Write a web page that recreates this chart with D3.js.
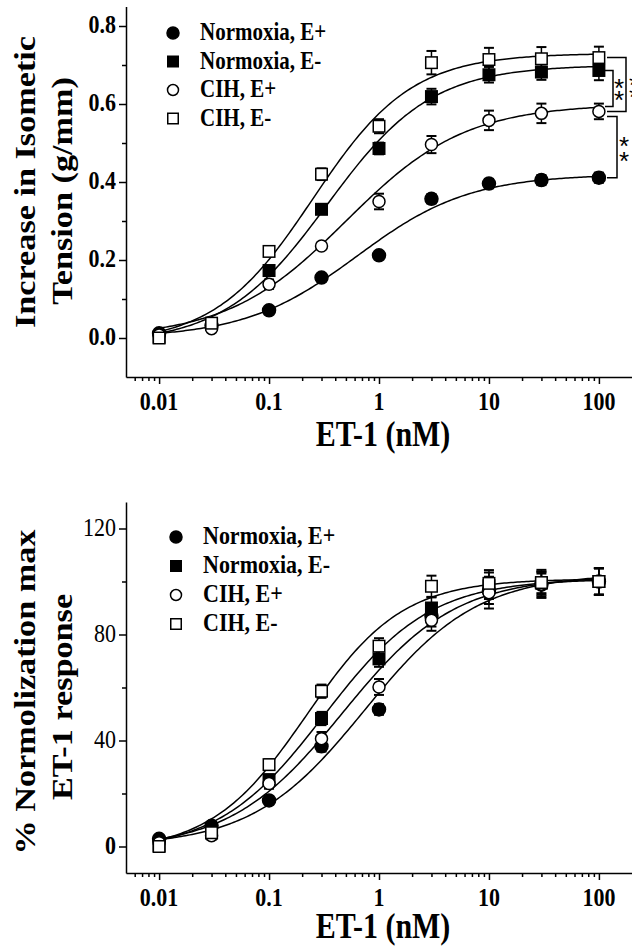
<!DOCTYPE html>
<html>
<head>
<meta charset="utf-8">
<script src="https://cdn.jsdelivr.net/npm/d3@7"></script>
<style>
  body { margin: 0; background: #fff; }
  svg { display: block; }
  text { font-family: "Liberation Serif", "Times New Roman", serif; font-weight: bold; fill: #000; }
</style>
</head>
<body>
<svg id="chart" width="632" height="948"></svg>
<script>
// concentrations of ET-1 (nM)
const conc = [0.01, 0.03, 0.1, 0.3, 1, 3, 10, 30, 100];
const seriesNames = ["Normoxia, E+", "Normoxia, E-", "CIH, E+", "CIH, E-"];
const seriesShapes = ["circle", "square", "circle", "square"];
const seriesFilled = [true, true, false, false];

// top panel: increase in isometric tension (g/mm)
const tensionNormoxiaEp = [0.012, 0.032, 0.071, 0.155, 0.212, 0.357, 0.396, 0.405, 0.411];
const tensionNormoxiaEm = [0.002, 0.035, 0.173, 0.330, 0.486, 0.619, 0.675, 0.682, 0.686];
const tensionCihEp      = [0.008, 0.024, 0.138, 0.236, 0.350, 0.496, 0.558, 0.576, 0.581];
const tensionCihEm      = [0.000, 0.038, 0.222, 0.420, 0.543, 0.706, 0.714, 0.716, 0.719];
const tensionErrNormoxiaEp = [0.005, 0.005, 0.006, 0.008, 0.008, 0.012, 0.012, 0.013, 0.013];
const tensionErrNormoxiaEm = [0.004, 0.005, 0.010, 0.010, 0.015, 0.020, 0.020, 0.020, 0.025];
const tensionErrCihEp      = [0.005, 0.008, 0.012, 0.008, 0.020, 0.022, 0.025, 0.025, 0.020];
const tensionErrCihEm      = [0.004, 0.006, 0.008, 0.015, 0.018, 0.030, 0.030, 0.030, 0.028];
// fitted sigmoid per series: [bottom, top, logEC50, hill]
const tensionFits = [
  [0.000, 0.420, -0.20, 0.85],
  [-0.015, 0.700, -0.47, 0.92],
  [0.000, 0.600, -0.30, 0.80],
  [-0.015, 0.730, -0.60, 0.97]
];

// bottom panel: % normalization of max ET-1 response
const pctNormoxiaEp = [2.9, 7.8, 17.4, 37.8, 51.7, 87.0, 96.5, 98.8, 100.0];
const pctNormoxiaEm = [0.3, 5.1, 25.2, 48.3, 70.8, 90.0, 98.4, 99.4, 100.0];
const pctCihEp      = [1.4, 4.1, 23.8, 40.7, 60.2, 85.4, 95.8, 99.0, 100.0];
const pctCihEm      = [0.0, 5.2, 30.9, 58.6, 75.6, 98.2, 99.3, 99.6, 100.0];
const pctErrNormoxiaEp = [1.0, 1.0, 1.5, 2.0, 2.0, 4.0, 5.0, 5.0, 5.0];
const pctErrNormoxiaEm = [1.0, 1.0, 2.0, 2.5, 3.0, 4.0, 5.0, 5.0, 5.0];
const pctErrCihEp      = [1.0, 1.5, 2.0, 2.5, 3.0, 4.0, 6.0, 4.0, 5.0];
const pctErrCihEm      = [1.0, 1.0, 2.0, 2.5, 3.0, 4.0, 5.0, 4.0, 5.0];
const pctFits = [
  [0.0, 103.0, -0.13, 0.85],
  [-2.0, 101.0, -0.50, 0.90],
  [-1.0, 102.0, -0.33, 0.85],
  [-2.0, 101.0, -0.66, 1.00]
];

// axes
const xTicks = [0.01, 0.1, 1, 10, 100];
const xTickLabels = ["0.01", "0.1", "1", "10", "100"];
const tensionTicks = [0, 0.2, 0.4, 0.6, 0.8];
const tensionTickLabels = ["0.0", "0.2", "0.4", "0.6", "0.8"];
const tensionMinorTicks = [0.1, 0.3, 0.5, 0.7];
const pctTicks = [0, 40, 80, 120];
const pctTickLabels = ["0", "40", "80", "120"];
const pctMinorTicks = [20, 60, 100];

const STRETCH = 1.18; // the figure is a bit taller than wide

const svg = d3.select("#chart");

function addText(g, x, y, str, size, anchor, extra) {
  const t = g.append("text")
    .attr("transform", `translate(${x},${y}) scale(1,${STRETCH})`)
    .attr("text-anchor", anchor || "start")
    .style("font-size", size + "px")
    .text(str);
  if (extra) extra(t);
  return t;
}

function addVText(g, x, y, str, size) {
  return g.append("text")
    .attr("transform", `translate(${x},${y}) rotate(-90) scale(${STRETCH},1)`)
    .attr("text-anchor", "middle")
    .style("font-size", size + "px")
    .text(str);
}

function hill(p, c) {
  return p[0] + (p[1] - p[0]) / (1 + Math.pow(10, (p[2] - Math.log10(c)) * p[3]));
}

function drawMarker(g, shape, filled, cx, cy, size) {
  if (shape === "circle") {
    const r = filled ? size / 2 + 0.5 : size / 2;
    g.append("circle").attr("cx", cx).attr("cy", cy).attr("r", r)
      .attr("fill", filled ? "#000" : "#fff")
      .attr("stroke", "#000").attr("stroke-width", 1.5);
  } else {
    const s = size - 0.5;
    g.append("rect").attr("x", cx - s / 2).attr("y", cy - s / 2)
      .attr("width", s).attr("height", s)
      .attr("fill", filled ? "#000" : "#fff")
      .attr("stroke", "#000").attr("stroke-width", 1.5);
  }
}

function drawPanel(p) {
  const g = svg.append("g");
  const x = d3.scaleLog().domain([0.005, 200]).range([126, 632]);
  const y = d3.scaleLinear().domain(p.yDomain).range([p.yBottom, p.yTop]);

  // minor x ticks at 2..9 of each decade
  const xMinor = [];
  for (let d = -3; d <= 2; d++) {
    for (let k = 2; k <= 9; k++) {
      const v = k * Math.pow(10, d);
      if (v > 0.005 && v < 200) xMinor.push(v);
    }
  }

  g.append("g").attr("transform", `translate(0,${p.yBottom})`)
    .call(d3.axisBottom(x).tickValues(xTicks).tickFormat("").tickSize(7).tickSizeOuter(0));
  g.append("g").attr("transform", `translate(0,${p.yBottom})`)
    .call(d3.axisBottom(x).tickValues(xMinor).tickFormat("").tickSize(4).tickSizeOuter(0))
    .select(".domain").remove();

  g.append("g").attr("transform", "translate(126,0)")
    .call(d3.axisLeft(y).tickValues(p.yTicks).tickFormat("").tickSize(7).tickSizeOuter(0));
  g.append("g").attr("transform", "translate(126,0)")
    .call(d3.axisLeft(y).tickValues(p.yMinor).tickFormat("").tickSize(4).tickSizeOuter(0))
    .select(".domain").remove();

  g.selectAll(".domain, .tick line").attr("stroke", "#000").attr("stroke-width", 1.5);

  xTicks.forEach((v, i) => addText(g, x(v), p.yBottom + 33, xTickLabels[i], 22, "middle"));
  p.yTicks.forEach((v, i) => addText(g, 116, y(v) + 7, p.yTickLabels[i], 22, "end",
    t => t.style("font-weight", p.yLabelWeight(v))));

  addText(g, 383, p.yBottom + p.xTitleDy, "ET-1 (nM)", 30, "middle");
  addVText(g, 35, p.titleCenter[0], p.yTitle[0], 29);
  addVText(g, 72, p.titleCenter[1], p.yTitle[1], 29);

  // fitted curves
  const xs = d3.range(-2, 2.0001, 0.02).map(l => Math.pow(10, l));
  const line = d3.line().x(c => x(c[0])).y(c => y(c[1]));
  p.fits.forEach(f => {
    g.append("path")
      .attr("d", line(xs.map(c => [c, hill(f, c)])))
      .attr("fill", "none").attr("stroke", "#000").attr("stroke-width", 1.5);
  });

  // error bars
  p.values.forEach((vals, s) => {
    vals.forEach((v, i) => {
      const e = p.errors[s][i];
      const cx = x(conc[i]);
      const y0 = y(v - e), y1 = y(v + e);
      g.append("line").attr("x1", cx).attr("x2", cx).attr("y1", y0).attr("y2", y1)
        .attr("stroke", "#000").attr("stroke-width", 1.5);
      [y0, y1].forEach(yy => g.append("line")
        .attr("x1", cx - 5).attr("x2", cx + 5).attr("y1", yy).attr("y2", yy)
        .attr("stroke", "#000").attr("stroke-width", 2));
    });
  });

  // markers
  p.values.forEach((vals, s) => {
    vals.forEach((v, i) => drawMarker(g, seriesShapes[s], seriesFilled[s], x(conc[i]), y(v), 12));
  });

  // legend
  seriesNames.forEach((name, s) => {
    const ly = p.legend.y + s * p.legend.dy;
    drawMarker(g, seriesShapes[s], seriesFilled[s], p.legend.x, ly, 11);
    addText(g, p.legend.x + 27, ly + 7, name, p.legend.size, "start");
  });

  return { g, x, y };
}

// top panel
const topPanel = drawPanel({
  yDomain: [-0.1, 0.85], yBottom: 377, yTop: 6.5, xTitleDy: 69,
  yTicks: tensionTicks, yTickLabels: tensionTickLabels, yMinor: tensionMinorTicks,
  yLabelWeight: () => "bold",
  yTitle: ["Increase in Isometic", "Tension (g/mm)"], titleCenter: [182, 191],
  values: [tensionNormoxiaEp, tensionNormoxiaEm, tensionCihEp, tensionCihEm],
  errors: [tensionErrNormoxiaEp, tensionErrNormoxiaEm, tensionErrCihEp, tensionErrCihEm],
  fits: tensionFits,
  legend: { x: 173, y: 33, dy: 28.5, size: 21 }
});

// significance brackets at 100 nM
const last = conc.length - 1;
const yEnd = [tensionNormoxiaEp, tensionNormoxiaEm, tensionCihEp, tensionCihEm].map(a => topPanel.y(a[last]));
const brackets = [
  { y0: yEnd[3], y1: yEnd[2], xv: 626, x0: 607, sx: 634, s0: -6, s1: 6 },
  { y0: yEnd[1], y1: yEnd[2] - 5, xv: 613, x0: 605, sx: 619, s0: -6, s1: 6 },
  { y0: yEnd[2] + 5, y1: yEnd[0], xv: 617, x0: 607, sx: 624, s0: -7, s1: 8 }
];
brackets.forEach(b => {
  topPanel.g.append("path")
    .attr("d", `M${b.x0},${b.y0}H${b.xv}V${b.y1}H${b.x0}`)
    .attr("fill", "none").attr("stroke", "#000").attr("stroke-width", 1.5);
  const mid = (b.y0 + b.y1) / 2;
  [b.s0, b.s1].forEach(o => topPanel.g.append("text")
    .attr("x", b.sx).attr("y", mid + o + 15)
    .attr("text-anchor", "middle")
    .style("font-family", "'Liberation Sans', Arial, sans-serif")
    .style("font-weight", "normal").style("font-size", "26px").style("fill", "#000")
    .text("*"));
});

// bottom panel
drawPanel({
  yDomain: [-10, 130], yBottom: 873, yTop: 502, xTitleDy: 65,
  yTicks: pctTicks, yTickLabels: pctTickLabels, yMinor: pctMinorTicks,
  yLabelWeight: v => (v === 0 ? "bold" : "normal"),
  yTitle: ["% Normolization max", "ET-1 response"], titleCenter: [692, 697],
  values: [pctNormoxiaEp, pctNormoxiaEm, pctCihEp, pctCihEm],
  errors: [pctErrNormoxiaEp, pctErrNormoxiaEm, pctErrCihEp, pctErrCihEm],
  fits: pctFits,
  legend: { x: 176, y: 537, dy: 29, size: 22 }
});
</script>
</body>
</html>
